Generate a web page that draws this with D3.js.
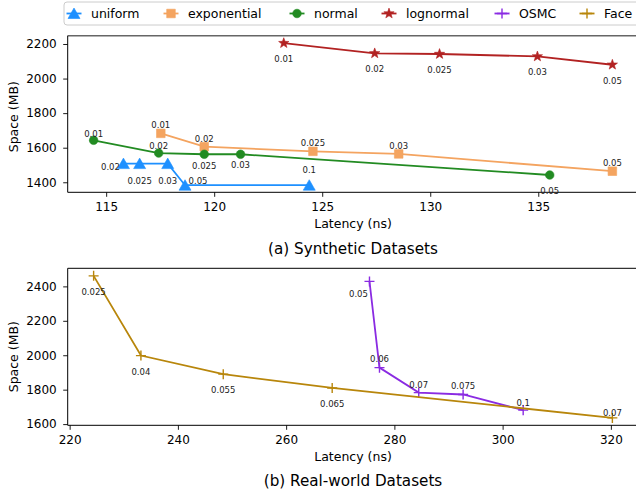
<!DOCTYPE html>
<html lang="en">
<head>
<meta charset="UTF-8">
<title>Space vs Latency</title>
<script src="https://d3js.org/d3.v7.min.js"></script>
<style>
  body { margin: 0; background: #fff; }
  text { font-family: "DejaVu Sans", sans-serif; fill: #000; }
</style>
</head>
<body>
<div id="chart"></div>
<script>
// ---- data ----
var uniformX = [115.8, 116.55, 117.85, 118.65, 124.4];
var uniformY = [1508, 1508, 1508, 1383, 1383];
var uniformLabels = ["0.02", "0.025", "0.03", "0.05", "0.1"];

var exponentialX = [117.53, 119.54, 124.57, 128.54, 138.43];
var exponentialY = [1683, 1606, 1579, 1564, 1464];
var exponentialLabels = ["0.01", "0.02", "0.025", "0.03", "0.05"];

var normalX = [114.42, 117.43, 119.54, 121.22, 135.53];
var normalY = [1643, 1569, 1562, 1562, 1442];
var normalLabels = ["0.01", "0.02", "0.025", "0.03", "0.05"];

var lognormalX = [123.22, 127.43, 130.43, 134.96, 138.43];
var lognormalY = [2205, 2146, 2142, 2128, 2080];
var lognormalLabels = ["0.01", "0.02", "0.025", "0.03", "0.05"];

var osmcX = [275.4, 277.25, 284.5, 292.7, 303.8];
var osmcY = [2429, 1928, 1783, 1772, 1681];
var osmcLabels = ["0.05", "0.06", "0.07", "0.075", "0.1"];

var faceX = [224.43, 233.17, 248.38, 268.51, 320.28];
var faceY = [2461, 1998, 1890, 1810, 1636];
var faceLabels = ["0.025", "0.04", "0.055", "0.065", "0.07"];

var topXTicks = [115, 120, 125, 130, 135];
var topYTicks = [1400, 1600, 1800, 2000, 2200];
var botXTicks = [220, 240, 260, 280, 300, 320];
var botYTicks = [1600, 1800, 2000, 2200, 2400];

var legendNames = ["uniform", "exponential", "normal", "lognormal", "OSMC", "Face"];

// label offsets (px) from each point, layout only
var uniformOff = [[-13, 3], [0, 17.5], [0, 17.5], [13, -4.5], [0, -15.5]];
var exponentialOff = [[0, -8], [0, -8], [0, -8], [0, -8], [0, -8]];
var normalOff = [[0, -6.7], [0, -6.7], [0, 12], [0, 11], [0, 16.3]];
var lognormalOff = [[0, 16], [0, 16], [0, 16], [0, 16], [0, 16]];
var osmcOff = [[-11, 13], [0, -8.3], [0, -8], [0, -8], [0, -7.6]];
var faceOff = [[0, 16], [0, 16], [0, 16], [0, 15.7], [0, -5]];

var width = 636, height = 494;
var svg = d3.select("#chart").append("svg")
    .attr("width", width).attr("height", height);

function markerPath(type) {
    if (type == "tri") return "M0,-5.5L6,5L-6,5Z";
    if (type == "sq") return "M-4.3,-4.3H4.3V4.3H-4.3Z";
    if (type == "circ") return d3.symbol(d3.symbolCircle, 58)();
    if (type == "star") {
        var pts = [];
        for (var i = 0; i < 10; i++) {
            var r = i % 2 == 0 ? 5.4 : 2.2;
            var a = -Math.PI / 2 + i * Math.PI / 5;
            pts.push([r * Math.cos(a), r * Math.sin(a)]);
        }
        return "M" + pts.join("L") + "Z";
    }
    return "M-5,0H5M0,-5V5";
}

function drawPanel(cfg) {
    var x = d3.scaleLinear().domain(cfg.xDomain).range([67.7, 638.3]);
    var y = d3.scaleLinear().domain(cfg.yDomain).range([cfg.bottom, cfg.top]);
    var g = svg.append("g");

    g.append("clipPath").attr("id", cfg.id + "clip")
        .append("rect").attr("x", 67.7).attr("y", cfg.top)
        .attr("width", 570.6).attr("height", cfg.bottom - cfg.top);

    var xAxis = g.append("g").attr("transform", "translate(0," + cfg.bottom + ")")
        .call(d3.axisBottom(x).tickValues(cfg.xTicks).tickFormat(d3.format("d"))
            .tickSize(4.5).tickPadding(5.8).tickSizeOuter(0));
    var yAxis = g.append("g").attr("transform", "translate(67.7,0)")
        .call(d3.axisLeft(y).tickValues(cfg.yTicks).tickFormat(d3.format("d"))
            .tickSize(4.5).tickPadding(6.5).tickSizeOuter(0));
    [xAxis, yAxis].forEach(function(a) {
        a.select(".domain").remove();
        a.selectAll("text").style("font-size", "12px").style("font-family", "DejaVu Sans");
        a.selectAll("line").attr("stroke", "#000").attr("stroke-width", 0.9);
    });

    // spines
    g.append("line").attr("x1", 67.7).attr("x2", 640).attr("y1", cfg.top).attr("y2", cfg.top)
        .attr("stroke", cfg.topSpine).attr("stroke-width", cfg.topSpineW);
    g.append("line").attr("x1", 67.7).attr("x2", 640).attr("y1", cfg.bottom).attr("y2", cfg.bottom)
        .attr("stroke", "#000").attr("stroke-width", 1);
    g.append("line").attr("x1", 67.7).attr("x2", 67.7).attr("y1", cfg.top).attr("y2", cfg.bottom)
        .attr("stroke", "#000").attr("stroke-width", 1);

    cfg.series.forEach(function(s) {
        var pts = s.xs.map(function(v, i) { return [x(v), y(s.ys[i])]; });
        g.append("path").attr("d", d3.line()(pts))
            .attr("fill", "none").attr("stroke", s.color).attr("stroke-width", 1.8)
            .attr("clip-path", "url(#" + cfg.id + "clip)");
        g.selectAll(null).data(pts).enter().append("path")
            .attr("d", markerPath(s.marker))
            .attr("transform", function(p) { return "translate(" + p[0] + "," + p[1] + ")"; })
            .attr("fill", s.marker == "plus" ? "none" : s.color)
            .attr("stroke", s.color)
            .attr("stroke-width", s.marker == "plus" ? 1.4 : 0.6);
    });
    cfg.series.forEach(function(s) {
        g.selectAll(null).data(s.labels).enter().append("text")
            .attr("x", function(d, i) { return x(s.xs[i]) + s.off[i][0]; })
            .attr("y", function(d, i) { return y(s.ys[i]) + s.off[i][1]; })
            .attr("dy", "0.35em")
            .attr("text-anchor", "middle")
            .style("font-size", "8.5px")
            .style("fill", "#222")
            .text(function(d) { return d; });
    });

    var cx = (67.7 + 638.3) / 2;
    g.append("text").attr("x", cx).attr("y", cfg.xlabelY).attr("dy", "0.35em")
        .attr("text-anchor", "middle").style("font-size", "12.5px").text("Latency (ns)");
    g.append("text").attr("x", cx).attr("y", cfg.titleY).attr("dy", "0.35em")
        .attr("text-anchor", "middle").style("font-size", "15.2px").text(cfg.title);
    g.append("text").attr("transform", "translate(13.3," + cfg.ylabelY + ") rotate(-90)")
        .attr("dy", "0.35em").attr("text-anchor", "middle")
        .style("font-size", "12.5px").text("Space (MB)");
}

var colors = {
    uniform: "#1E90FF", exponential: "#F4A460", normal: "#228B22",
    lognormal: "#B22222", OSMC: "#8A2BE2", Face: "#B8860B"
};
var markers = {
    uniform: "tri", exponential: "sq", normal: "circ",
    lognormal: "star", OSMC: "plus", Face: "plus"
};

drawPanel({
    id: "a", top: 35.7, bottom: 192.3,
    xDomain: [113.22, 139.63], yDomain: [1342, 2248],
    xTicks: topXTicks, yTicks: topYTicks,
    topSpine: "#666", topSpineW: 1.5,
    xlabelY: 223.3, titleY: 248.3, ylabelY: 116.7,
    title: "(a) Synthetic Datasets",
    series: [
        {xs: uniformX, ys: uniformY, labels: uniformLabels, off: uniformOff, color: colors.uniform, marker: markers.uniform},
        {xs: exponentialX, ys: exponentialY, labels: exponentialLabels, off: exponentialOff, color: colors.exponential, marker: markers.exponential},
        {xs: normalX, ys: normalY, labels: normalLabels, off: normalOff, color: colors.normal, marker: markers.normal},
        {xs: lognormalX, ys: lognormalY, labels: lognormalLabels, off: lognormalOff, color: colors.lognormal, marker: markers.lognormal}
    ]
});

drawPanel({
    id: "b", top: 268.3, bottom: 425.3,
    xDomain: [219.64, 325.07], yDomain: [1593, 2505],
    xTicks: botXTicks, yTicks: botYTicks,
    topSpine: "#000", topSpineW: 1,
    xlabelY: 456.7, titleY: 481, ylabelY: 356.7,
    title: "(b) Real-world Datasets",
    series: [
        {xs: osmcX, ys: osmcY, labels: osmcLabels, off: osmcOff, color: colors.OSMC, marker: markers.OSMC},
        {xs: faceX, ys: faceY, labels: faceLabels, off: faceOff, color: colors.Face, marker: markers.Face}
    ]
});

// legend
var legendPos = [74, 171, 297, 389, 502, 587];
var lg = svg.append("g");
lg.append("rect").attr("x", 64).attr("y", 2).attr("width", 600).attr("height", 23).attr("rx", 3)
    .attr("fill", "#fff").attr("fill-opacity", 0.8).attr("stroke", "#ccc").attr("stroke-width", 1);
legendNames.forEach(function(name, i) {
    var lx = legendPos[i], ly = 13.5;
    lg.append("line").attr("x1", lx - 7.5).attr("x2", lx + 7.5).attr("y1", ly).attr("y2", ly)
        .attr("stroke", colors[name]).attr("stroke-width", 1.8);
    lg.append("path").attr("d", markerPath(markers[name]))
        .attr("transform", "translate(" + lx + "," + ly + ")")
        .attr("fill", markers[name] == "plus" ? "none" : colors[name])
        .attr("stroke", colors[name]).attr("stroke-width", markers[name] == "plus" ? 1.4 : 0.6);
    lg.append("text").attr("x", lx + 17).attr("y", ly).attr("dy", "0.35em")
        .style("font-size", "12.5px").text(name);
});
</script>
</body>
</html>
